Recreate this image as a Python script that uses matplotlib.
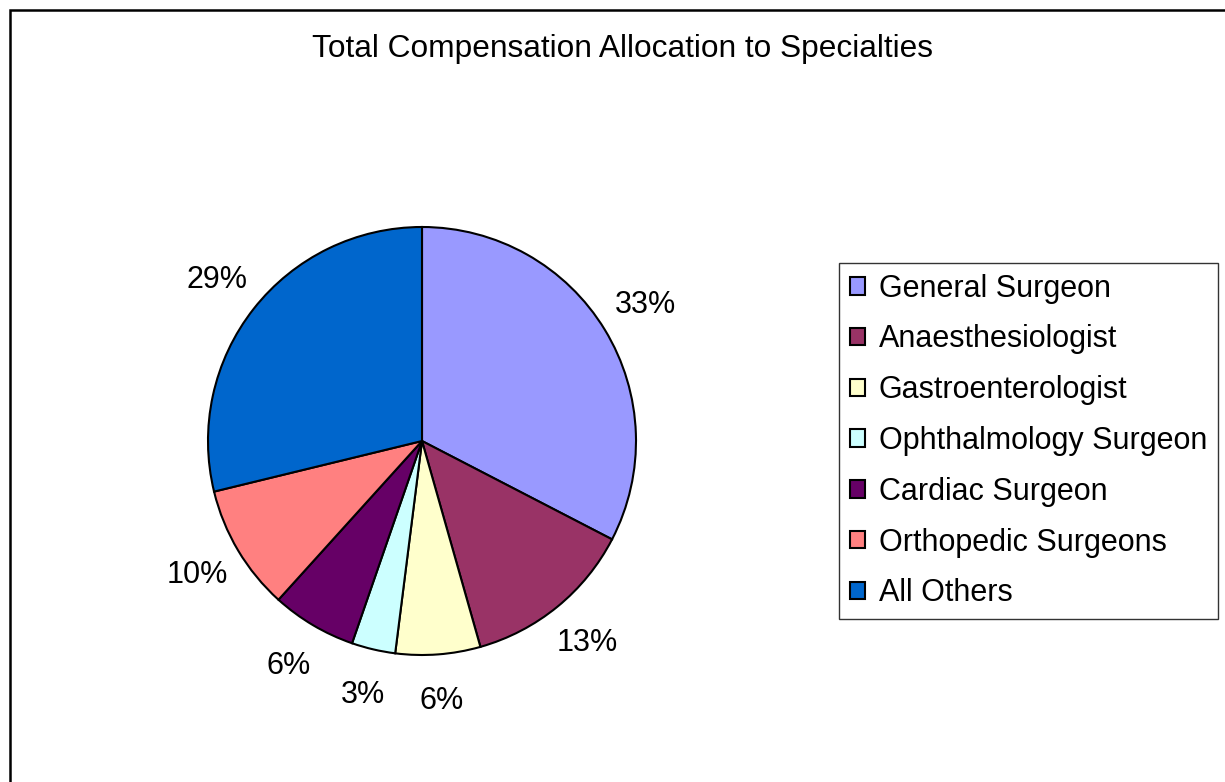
import matplotlib
matplotlib.use('Agg')
import matplotlib.pyplot as plt
from matplotlib.patches import Rectangle

plt.rcParams['font.family'] = ['Liberation Sans', 'DejaVu Sans']

specialties = ['General Surgeon', 'Anaesthesiologist', 'Gastroenterologist',
               'Ophthalmology Surgeon', 'Cardiac Surgeon', 'Orthopedic Surgeons',
               'All Others']
shares = [32.6, 13.0, 6.4, 3.3, 6.4, 9.5, 28.8]
colors = ['#9999FF', '#993366', '#FFFFCC', '#CCFFFF', '#660066', '#FF8080', '#0066CC']

W, H = 1225, 782
fig = plt.figure(figsize=(W / 100, H / 100), dpi=100)

# outer chart frame (left and top edges visible)
fig.patches.append(Rectangle((10 / W, -0.1), 1.2, 1 - 10 / H + 0.1,
                             transform=fig.transFigure, fill=False,
                             edgecolor='black', lw=1.8))

cx, cy, r = 422, 441, 214
ax = fig.add_axes([(cx - r) / W, (H - cy - r) / H, 2 * r / W, 2 * r / H])

wedges, texts, autotexts = ax.pie(
    shares, colors=colors, startangle=90, counterclock=False,
    autopct=lambda p: '%.0f%%' % p, pctdistance=1.22,
    wedgeprops=dict(edgecolor='black', linewidth=1.5, clip_on=False),
    textprops=dict(fontsize=22))
ax.set_xlim(-1, 1)
ax.set_ylim(-1, 1)

fig.text(622 / W, 1 - 49 / H, 'Total Compensation Allocation to Specialties',
         ha='center', va='center', fontsize=22.8)

leg = fig.legend(wedges, specialties, loc='upper left',
                 bbox_to_anchor=(839 / W, 1 - 263 / H), borderaxespad=0,
                 fontsize=22, frameon=True, fancybox=False, shadow=False,
                 handlelength=0.5, handleheight=0.5, handletextpad=0.45,
                 labelspacing=0.68, borderpad=0.35)
leg.get_frame().set_edgecolor('black')
leg.get_frame().set_linewidth(1.0)

fig.savefig('out.png', dpi=100)
